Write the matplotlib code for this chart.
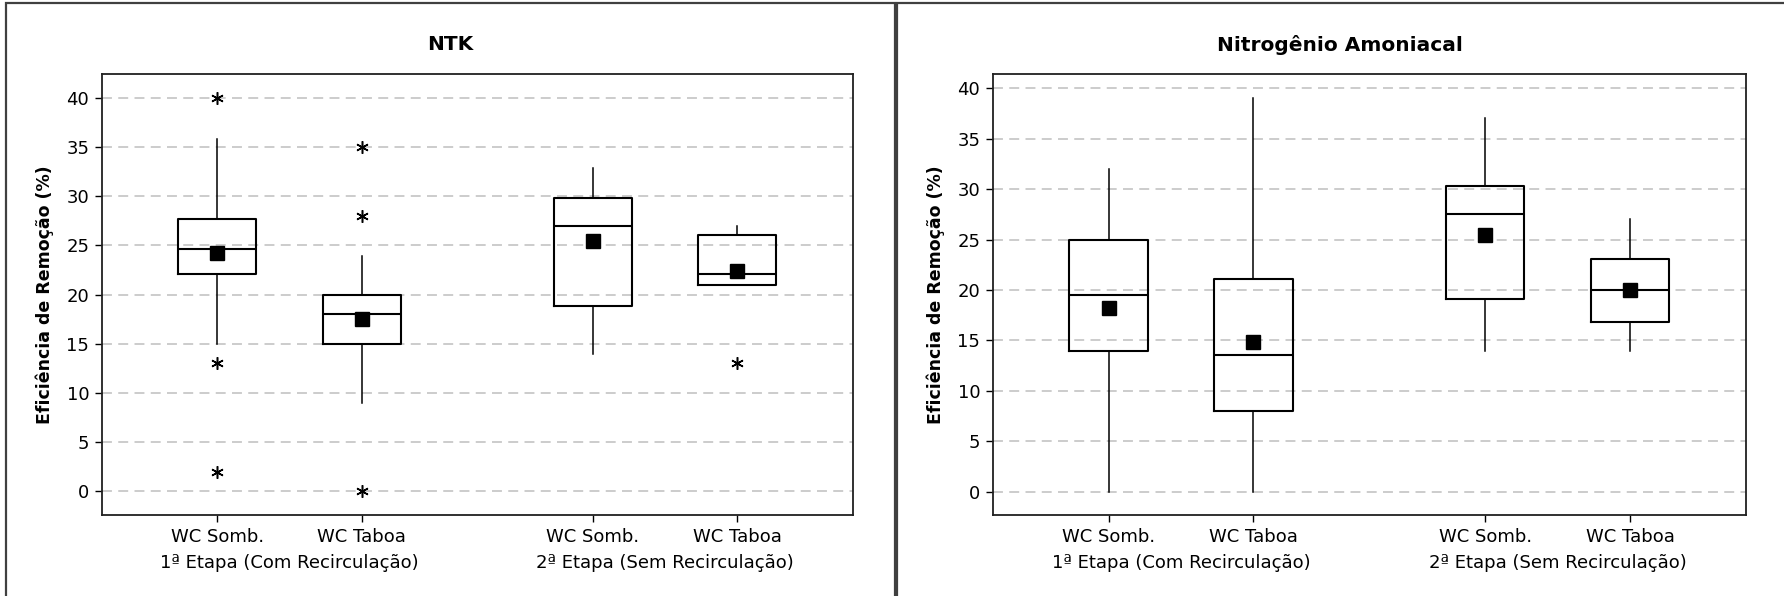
#
# boxplots of removal efficiency - NTK and ammonia nitrogen
#
import matplotlib
matplotlib.use("Agg")
import matplotlib.pyplot as plt
from matplotlib.patches import Rectangle

positions = [1, 2, 3.6, 4.6]
box_labels = ["WC Somb.", "WC Taboa", "WC Somb.", "WC Taboa"]
group_labels = ["1ª Etapa (Com Recirculação)", "2ª Etapa (Sem Recirculação)"]
y_ticks = [0, 5, 10, 15, 20, 25, 30, 35, 40]

# NTK
ntk_q1 = [22.1, 15.0, 18.8, 21.0]
ntk_med = [24.6, 18.0, 27.0, 22.1]
ntk_q3 = [27.7, 20.0, 29.8, 26.0]
ntk_low = [15.0, 9.0, 14.0, 21.0]
ntk_high = [35.8, 23.9, 32.9, 27.0]
ntk_mean = [24.2, 17.5, 25.4, 22.4]
ntk_out = [[40, 13, 2], [35, 28, 0], [], [13]]

# Nitrogenio Amoniacal
amon_q1 = [14.0, 8.0, 19.1, 16.8]
amon_med = [19.5, 13.6, 27.5, 20.0]
amon_q3 = [25.0, 21.1, 30.3, 23.1]
amon_low = [0.0, 0.0, 14.0, 14.0]
amon_high = [32.0, 39.0, 37.0, 27.0]
amon_mean = [18.2, 14.8, 25.4, 20.0]
amon_out = [[], [], [], []]

W, H = 1784, 596


def draw_panel(ax, title, q1, med, q3, low, high, mean, out, ylim, title_x):
    stats = []
    for i in range(len(q1)):
        stats.append(dict(q1=q1[i], med=med[i], q3=q3[i], whislo=low[i],
                          whishi=high[i], mean=mean[i], fliers=out[i]))
    ax.bxp(stats, positions=positions, widths=0.54, showmeans=True,
           showcaps=False,
           boxprops=dict(color="black", lw=1.5),
           medianprops=dict(color="black", lw=1.5),
           whiskerprops=dict(color="black", lw=1.1),
           meanprops=dict(marker="s", markerfacecolor="black",
                          markeredgecolor="black", markersize=9.5),
           flierprops=dict(marker=(6, 2, 0), markeredgecolor="black",
                           markersize=9, markeredgewidth=1.1, linestyle="none"))
    ax.set_xlim(0.2, 5.4)
    ax.set_ylim(*ylim)
    ax.set_yticks(y_ticks)
    ax.set_xticks(positions, box_labels)
    ax.yaxis.grid(True, color="#c8c8c8", lw=1.3, linestyle=(0, (5.5, 3.5)))
    ax.set_axisbelow(True)
    ax.tick_params(axis="both", labelsize=13, length=5, width=1, direction="out",
                   color="black", pad=4)
    for s in ax.spines.values():
        s.set_linewidth(1.3)
        s.set_color("#202020")
    ax.set_ylabel("Eficiência de Remoção (%)", fontsize=12.5, fontweight="bold",
                  labelpad=9)
    for g, lab in enumerate(group_labels):
        xc = (positions[2 * g] + positions[2 * g + 1]) / 2
        ax.text(xc, -0.109, lab, transform=ax.get_xaxis_transform(),
                ha="center", va="center", fontsize=13)
    plt.gcf().text(title_x, 1 - 45 / H, title, ha="center", va="center",
                   fontsize=14.5, fontweight="bold")


def main():
    fig = plt.figure(figsize=(W / 100, H / 100), dpi=100)
    ax1 = fig.add_axes([101.7 / W, 1 - 515 / H, 751.3 / W, 441 / H])
    ax2 = fig.add_axes([992.7 / W, 1 - 515 / H, 753.3 / W, 441 / H])

    draw_panel(ax1, "NTK", ntk_q1, ntk_med, ntk_q3, ntk_low, ntk_high,
               ntk_mean, ntk_out, (-2.4, 42.4), 450 / W)
    draw_panel(ax2, "Nitrogênio Amoniacal", amon_q1, amon_med, amon_q3,
               amon_low, amon_high, amon_mean, amon_out, (-2.3, 41.4), 1340 / W)

    # panel frames
    fig.add_artist(Rectangle((5.5 / W, -0.1), 889 / W, 1.1 - 2.7 / H,
                             transform=fig.transFigure, fill=False,
                             ec="#404040", lw=1.6))
    fig.add_artist(Rectangle((897 / W, -0.1), 1.0, 1.1 - 2.7 / H,
                             transform=fig.transFigure, fill=False,
                             ec="#404040", lw=1.6))

    fig.savefig("out.png", dpi=100)


if __name__ == "__main__":
    main()
